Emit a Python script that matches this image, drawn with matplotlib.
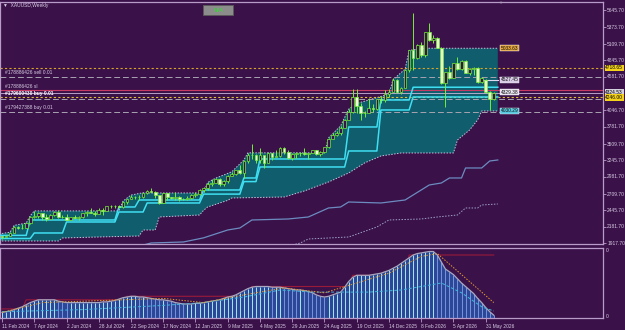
import matplotlib
matplotlib.use('Agg')
import matplotlib.pyplot as plt
from matplotlib.patches import Rectangle

plt.rcParams['font.family'] = ['Liberation Sans', 'DejaVu Sans']

# ---------------- data (weekly XAUUSD, bar 0 = week of 11 Feb 2024) ----------------
opens = [2024, 2013, 2035, 2083, 2179, 2155, 2165, 2233, 2329, 2344,
         2392, 2337, 2301, 2360, 2415, 2334, 2327, 2293, 2333, 2321,
         2326, 2391, 2411, 2400, 2387, 2443, 2431, 2507, 2512, 2503,
         2497, 2577, 2621, 2658, 2653, 2657, 2721, 2747, 2736, 2685,
         2563, 2716, 2650, 2633, 2648, 2622, 2621, 2640, 2690, 2703,
         2770, 2798, 2861, 2882, 2936, 2858, 2910, 2984, 3022, 3084,
         3037, 3237, 3327, 3319, 3240, 3325, 3202, 3357, 3289, 3310,
         3433, 3368, 3274, 3337, 3355, 3350, 3337, 3362, 3398, 3336,
         3371, 3447, 3586, 3643, 3685, 3759, 3886, 4018, 4251, 4113,
         4002, 4000, 4084, 4065, 4218, 4198, 4300, 4340, 4530, 4340,
         4400, 4680, 5000, 4880, 5080, 4920, 5290, 5170, 5200, 5040,
         4480, 4650, 4560, 4790, 4700, 4830, 4640, 4700, 4720, 4500,
         4530, 4340, 4220]
highs = [2031, 2041, 2088, 2195, 2185, 2222, 2236, 2354, 2431, 2418,
         2353, 2378, 2378, 2422, 2450, 2364, 2387, 2339, 2368, 2345,
         2393, 2424, 2483, 2433, 2477, 2477, 2510, 2531, 2528, 2529,
         2586, 2626, 2685, 2670, 2685, 2722, 2758, 2790, 2750, 2670,
         2721, 2721, 2657, 2726, 2665, 2638, 2665, 2698, 2726, 2786,
         2817, 2886, 2942, 2955, 2956, 2930, 3004, 3057, 3036, 3167,
         3245, 3358, 3500, 3346, 3435, 3252, 3366, 3365, 3403, 3446,
         3452, 3398, 3365, 3375, 3377, 3439, 3363, 3409, 3400, 3383,
         3453, 3600, 3674, 3707, 3791, 3898, 4059, 4380, 4381, 4160,
         4030, 4245, 4135, 4220, 4265, 4360, 4380, 4550, 4540, 4420,
         4700, 5010, 5598, 5100, 5140, 5300, 5440, 5250, 5210, 5060,
         4660, 4750, 4800, 4894, 4850, 4840, 4720, 4730, 4740, 4570,
         4540, 4350, 4330]
lows = [1984, 2010, 2024, 2078, 2146, 2146, 2157, 2229, 2325, 2324,
        2292, 2277, 2302, 2350, 2325, 2320, 2287, 2286, 2316, 2293,
        2319, 2353, 2398, 2353, 2380, 2364, 2431, 2470, 2471, 2471,
        2485, 2547, 2621, 2624, 2603, 2645, 2708, 2730, 2643, 2536,
        2565, 2605, 2614, 2613, 2583, 2598, 2606, 2614, 2656, 2689,
        2730, 2772, 2832, 2877, 2832, 2832, 2880, 2982, 2999, 3015,
        2957, 3194, 3260, 3202, 3202, 3120, 3205, 3245, 3295, 3293,
        3341, 3255, 3247, 3283, 3309, 3324, 3268, 3352, 3331, 3312,
        3364, 3435, 3585, 3627, 3639, 3760, 3880, 4003, 4004, 3886,
        3930, 3995, 4020, 4040, 4160, 4180, 4260, 4330, 4320, 4300,
        4390, 4660, 4690, 4860, 4890, 4900, 5150, 5120, 5030, 4460,
        4094, 4540, 4550, 4680, 4680, 4630, 4600, 4600, 4480, 4470,
        4320, 4046, 4200]
closes = [2013, 2035, 2083, 2179, 2155, 2165, 2233, 2329, 2344, 2392,
          2337, 2301, 2360, 2415, 2334, 2327, 2293, 2333, 2321, 2326,
          2391, 2411, 2400, 2387, 2443, 2431, 2507, 2512, 2503, 2497,
          2577, 2621, 2658, 2653, 2657, 2721, 2747, 2736, 2685, 2563,
          2716, 2650, 2633, 2648, 2622, 2621, 2640, 2690, 2703, 2770,
          2798, 2861, 2882, 2936, 2858, 2910, 2984, 3022, 3084, 3037,
          3237, 3327, 3319, 3240, 3325, 3202, 3357, 3289, 3310, 3433,
          3368, 3274, 3337, 3355, 3350, 3337, 3362, 3398, 3336, 3371,
          3447, 3586, 3643, 3685, 3759, 3886, 4018, 4251, 4113, 4002,
          4000, 4084, 4065, 4218, 4198, 4300, 4340, 4530, 4340, 4400,
          4680, 5000, 4880, 5080, 4920, 5290, 5170, 5200, 5040, 4480,
          4650, 4560, 4790, 4700, 4830, 4640, 4700, 4720, 4500, 4550,
          4340, 4220, 4324.53]

# channel / trailing lines: (bar, price) vertices
cyan_fast = [(-1, 2040), (6, 2040), (7, 2286), (28, 2286), (29, 2494), (33, 2494),
             (34, 2606), (49, 2606), (50, 2766), (59, 2766), (60, 2958), (63, 2958),
             (64, 3262), (85, 3262), (86, 3774), (93, 3774), (94, 4206), (101, 4206),
             (102, 4410), (123, 4410)]
cyan_slow = [(-1, 1990), (7, 1990), (8, 2078), (15, 2078), (16, 2254), (28, 2254),
             (29, 2414), (35, 2414), (36, 2558), (49, 2558), (50, 2700), (59, 2700),
             (60, 2900), (63, 2900), (64, 3134), (85, 3134), (86, 3390), (93, 3390),
             (94, 4046), (101, 4046), (102, 4254), (123, 4254)]
band_top = [(-1, 2060), (2, 2090), (3, 2200), (6, 2236), (7, 2354), (8, 2431),
            (29, 2431), (30, 2586), (32, 2685), (35, 2722), (37, 2718), (50, 2718),
            (51, 2886), (53, 2955), (57, 3057), (60, 3245), (61, 3360), (80, 3360),
            (81, 3600), (84, 3791), (86, 4059), (88, 4150), (96, 4300), (97, 4530),
            (100, 4700), (101, 5000), (105, 5033.63), (123, 5033.63)]
band_bot = [(-1, 1950), (14, 1950), (15, 1998), (24, 2014), (34, 2030), (35, 2126),
            (38, 2126), (39, 2334), (49, 2366), (50, 2440), (51, 2494), (56, 2600),
            (57, 2638), (70, 2654), (75, 2750), (81, 2894), (86, 3038), (90, 3200),
            (94, 3310), (99, 3358), (112, 3358), (113, 3566), (116, 3726), (118, 3886),
            (119, 4030.29), (123, 4030.29)]
support_line = [(33, 1850), (37, 1918), (45, 1934), (50, 2000), (56, 2126), (59, 2158),
                (62, 2286), (71, 2302), (76, 2334), (81, 2478), (84, 2494), (86, 2574),
                (94, 2558), (100, 2606), (106, 2846), (109, 2878), (111, 2958), (114, 2958),
                (115, 3118), (119, 3118), (121, 3230), (123, 3246)]
support_dots = [(70, 1850), (74, 1918), (76, 1982), (86, 2014), (93, 2174), (96, 2286),
                (104, 2302), (108, 2334), (113, 2366), (115, 2478), (118, 2478),
                (119, 2526), (123, 2542)]

# oscillator sub-window (0..100)
osc = [8, 9, 10, 12, 14, 16, 19, 22, 24, 26, 26, 26, 26, 26, 24, 23, 22, 22, 22, 22,
       22, 22, 22, 22, 22, 23, 23, 24, 25, 27, 29, 30, 31, 31, 30, 30, 29, 28, 27, 26,
       26, 25, 24, 22, 21, 20, 20, 20, 21, 21, 22, 23, 24, 25, 26, 28, 30, 31, 33, 36,
       39, 42, 44, 45, 45, 45, 45, 44, 44, 44, 43, 42, 41, 40, 40, 39, 38, 36, 33, 31,
       30, 31, 33, 35, 37, 44, 52, 58, 61, 61, 61, 61, 62, 63, 64, 66, 68, 71, 74, 78,
       82, 86, 90, 92, 93, 94, 95, 95, 90, 80, 70, 66, 62, 56, 50, 45, 40, 35, 28, 22,
       15, 9, 4]
osc_signal = [(0, 8), (10, 22), (20, 24), (30, 26), (40, 28), (50, 22), (60, 33),
              (70, 43), (80, 36), (88, 50), (96, 64), (104, 88), (108, 92), (122, 22)]
osc_slow = [(0, 9), (20, 12), (40, 18), (50, 22), (60, 30), (69, 40), (77, 37), (91, 37),
            (99, 40), (109, 50), (114, 36), (119, 16), (122, 10)]
osc_level = [(0, 13), (5, 13), (6, 26), (30, 26), (31, 31), (61, 31), (62, 45), (86, 45),
             (87, 61), (100, 61), (101, 90), (122, 90)]

price_ticks = [5645.70, 5373.70, 5109.70, 4845.70, 4581.70, 4046.70, 3781.70,
               3509.70, 3245.70, 2981.70, 2709.70, 2445.70, 2181.70, 1917.70]
date_ticks = [0, 8, 16, 24, 32, 40, 48, 56, 64, 72, 80, 88, 96, 104, 112, 120]
date_labels = ['11 Feb 2024', '7 Apr 2024', '2 Jun 2024', '28 Jul 2024', '22 Sep 2024',
               '17 Nov 2024', '12 Jan 2025', '9 Mar 2025', '4 May 2025', '29 Jun 2025',
               '24 Aug 2025', '19 Oct 2025', '14 Dec 2025', '8 Feb 2026', '5 Apr 2026',
               '31 May 2026']

# ---------------- style ----------------
BG = '#3a1149'
FRAME = '#b99bc9'
TXT = '#d8cce4'
GREEN = '#74f036'
BEAR = '#effcd8'
TEAL = '#0f5d6d'
CYAN = '#3fdff2'
FS = 3.5

W, H = 625, 330
fig = plt.figure(figsize=(W / 100, H / 100), dpi=100)
fig.patch.set_facecolor(BG)


def box(x0, y0, x1, y1):
    return [x0 / W, 1 - y1 / H, (x1 - x0) / W, (y1 - y0) / H]


ax = fig.add_axes(box(0, 2, 603, 244))
sub = fig.add_axes(box(0, 248, 603, 318))
for a in (ax, sub):
    a.set_facecolor(BG)
    for s in a.spines.values():
        s.set_color(FRAME)
        s.set_linewidth(0.9)
    a.set_xlim(-0.5, 149.1)

ax.set_ylim(1901.7, 5773.7)
sub.set_ylim(0, 100)


def xs(pts):
    return [p[0] for p in pts]


def ys(pts):
    return [p[1] for p in pts]


# teal channel
poly = band_top + band_bot[::-1]
ax.fill(xs(poly), ys(poly), color=TEAL, lw=0, zorder=1)
ax.plot(xs(band_top), ys(band_top), color='#c9c3dc', lw=0.7, ls=(0, (1.5, 1.5)), zorder=2)
ax.plot(xs(band_bot), ys(band_bot), color='#c9c3dc', lw=0.7, ls=(0, (1.5, 1.5)), zorder=2)
ax.plot(xs(support_line), ys(support_line), color='#6c8cc0', lw=0.9, zorder=2)
ax.plot(xs(support_dots), ys(support_dots), color='#a0a2c8', lw=0.7, ls=(0, (1.5, 1.5)), zorder=2)
ax.plot(xs(cyan_fast), ys(cyan_fast), color=CYAN, lw=1.1, zorder=3)
ax.plot(xs(cyan_slow), ys(cyan_slow), color=CYAN, lw=1.1, zorder=3)

# order / price lines
ax.axhline(4718.65, color='#d6a428', lw=0.8, ls=(0, (2, 2)), zorder=2)
ax.axhline(4575, color='#a8a4b0', lw=0.7, ls=(0, (6, 3)), zorder=2)
ax.axhline(4358, color='#c83a64', lw=0.8, zorder=2)
ax.axhline(4324.53, color='#cdb7da', lw=0.6, zorder=2)
ax.axhline(4246, color='#e0c030', lw=0.8, ls=(0, (2, 2)), zorder=2)
ax.axhline(4222, color='#a8a4b0', lw=0.7, ls=(0, (6, 3)), zorder=2)
ax.axhline(4018, color='#a8a4b0', lw=0.7, ls=(0, (6, 3)), zorder=2)
ax.plot([119, 123], [4527.45, 4527.45], color='#e0d8f0', lw=0.8, zorder=3)

# candles
for i in range(len(closes)):
    o, h, l, c = opens[i], highs[i], lows[i], closes[i]
    ax.vlines(i, l, h, color=GREEN, lw=0.7, zorder=4)
    bull = c >= o
    ax.add_patch(Rectangle((i - 0.33, min(o, c)), 0.66, max(abs(c - o), 5),
                           facecolor=BG if bull else BEAR, edgecolor=GREEN,
                           lw=0.5, zorder=5))

# axis ticks / labels
ax.yaxis.tick_right()
ax.set_yticks(price_ticks)
ax.set_yticklabels(['%.2f' % v for v in price_ticks])
ax.tick_params(axis='y', length=2, width=0.6, color=FRAME, pad=1,
               labelsize=FS, labelcolor=TXT)
ax.set_xticks([])

sub.set_yticks([])
sub.set_xticks(date_ticks)
sub.set_xticklabels(date_labels, ha='left')
sub.tick_params(axis='x', length=3, width=0.6, color=FRAME, pad=1,
                labelsize=FS, labelcolor=TXT)

ytr = ax.get_yaxis_transform()


def tag(price, text, fc, tc='#000000'):
    ax.text(1.004, price, text, transform=ytr, fontsize=FS, color=tc, va='center',
            ha='left', clip_on=False, zorder=10,
            bbox=dict(boxstyle='square,pad=0.12', fc=fc, ec='none'))


tag(4718.65, '4718.65', '#f4d21c')
tag(4324.53, '4324.53', '#d4d0dc')
tag(4246.00, '4246.00', '#f4d21c')


def end_tag(price, text, fc):
    ax.text(123.7, price, text, fontsize=FS, color='#101010', va='center', ha='left',
            zorder=10, bbox=dict(boxstyle='square,pad=0.15', fc=fc, ec='#f0f0f0', lw=0.3))


end_tag(5033.63, '5033.63', '#e4a43c')
end_tag(4527.45, '4527.45', '#d8cce8')
end_tag(4329.38, '4329.38', '#e8e4f0')
end_tag(4030.29, '4030.29', '#56c8e0')

# order comments on the left
for price, text, w in [(4600, '#178886426 sell 0.01', 'normal'),
                       (4382, '#178886426 sl', 'normal'),
                       (4262, '#179600430 buy 0.01', 'bold'),
                       (4045, '#179427388 buy 0.01', 'normal')]:
    ax.text(0.008, price, text, transform=ytr, fontsize=FS, color=TXT if w == 'normal' else '#ffffff',
            fontweight=w, va='bottom', ha='left', zorder=10)

fig.text(3 / W, 1 - 6 / H, '\u25bc  XAUUSD,Weekly', fontsize=FS, color=TXT, va='center', ha='left')
fig.patches.append(Rectangle((203 / W, 1 - 15 / H), 30 / W, 10 / H, transform=fig.transFigure,
                             facecolor='#8c8c8c', edgecolor='#5a5a5a', lw=0.6))
fig.text(218 / W, 1 - 10 / H, 'N/A', fontsize=4.2, color='#30e030', va='center', ha='center')
# chart-shift marker at the top edge
fig.text(500 / W, 1 - 3 / H, '\u25bc', fontsize=3, color='#a8a0b0', va='center', ha='center')

# oscillator window
sub.plot(xs(osc_level), ys(osc_level), color='#9a1a3a', lw=0.8, zorder=1)
bars = list(range(len(osc)))
sub.fill_between(bars, 0, osc, color='#2c4698', lw=0, zorder=2)
for i in bars:
    rising = i == 0 or osc[i] >= osc[i - 1]
    sub.vlines(i, 0, osc[i], color='#a6e6f4' if rising else '#7894dc', lw=0.7, zorder=3)
sub.plot(bars, osc, color='#a8a8c0', lw=0.9, zorder=4)
sub.plot(xs(osc_slow), ys(osc_slow), color='#40b8dc', lw=0.7, ls=(0, (3, 2)), zorder=4)
sub.plot(xs(osc_signal), ys(osc_signal), color='#e09a30', lw=0.7, ls=(0, (1.5, 1.5)), zorder=5)

fig.text(606 / W, 1 - 251 / H, '0', fontsize=FS, color=TXT, va='center', ha='left')
fig.text(606 / W, 1 - 316 / H, '0', fontsize=FS, color=TXT, va='center', ha='left')

fig.savefig('out.png', dpi=100, facecolor=BG)
